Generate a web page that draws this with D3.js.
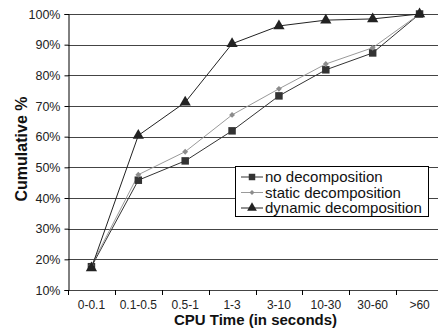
<!DOCTYPE html>
<html>
<head>
<meta charset="utf-8">
<script src="https://cdn.jsdelivr.net/npm/d3@7"></script>
<style>
  body { margin: 0; background: #fff; }
  svg { display: block; font-family: "Liberation Sans", Arial, sans-serif; }
</style>
</head>
<body>
<div id="chart"></div>
<script>
const categories = ["0-0.1", "0.1-0.5", "0.5-1", "1-3", "3-10", "10-30", "30-60", ">60"];
const noDecomposition = [17.6, 45.8, 52.1, 61.9, 73.3, 81.8, 87.3, 100];
const staticDecomposition = [18.0, 47.6, 55.1, 67.1, 75.6, 83.7, 89.0, 100];
const dynamicDecomposition = [17.2, 60.4, 71.2, 90.3, 96.1, 98.0, 98.4, 100];
const yTicks = [10, 20, 30, 40, 50, 60, 70, 80, 90, 100];

const series = [
  { name: "no decomposition", values: noDecomposition, line: "#333", fill: "#333", symbol: d3.symbolSquare, size: 56 },
  { name: "static decomposition", values: staticDecomposition, line: "#9a9a9a", fill: "#8c8c8c", symbol: d3.symbolDiamond2, size: 22 },
  { name: "dynamic decomposition", values: dynamicDecomposition, line: "#222", fill: "#222", symbol: d3.symbolTriangle, size: 55 }
];

const width = 438, height = 332;
const margin = { top: 14, left: 68, right: -5, bottom: 42 };

const svg = d3.select("#chart").append("svg")
  .attr("width", width)
  .attr("height", height);

const x = d3.scaleBand()
  .domain(categories)
  .range([margin.left, width - margin.right]);

const y = d3.scaleLinear()
  .domain([10, 100])
  .range([height - margin.bottom, margin.top]);

// gridlines
svg.append("g")
  .selectAll("line")
  .data(yTicks)
  .enter()
  .append("line")
  .attr("x1", margin.left)
  .attr("x2", width - margin.right)
  .attr("y1", d => Math.round(y(d)) + 0.5)
  .attr("y2", d => Math.round(y(d)) + 0.5)
  .attr("stroke", "#444")
  .attr("stroke-width", 1);

// y axis
const yAxis = svg.append("g")
  .attr("transform", "translate(" + (margin.left + 0.5) + ",0)")
  .call(d3.axisLeft(y).tickValues(yTicks).tickSize(4).tickFormat(d => d + "%"));
yAxis.select(".domain").attr("stroke", "#000");
yAxis.selectAll(".tick line").attr("stroke", "#000");
yAxis.selectAll("text")
  .attr("font-size", 12.5)
  .attr("fill", "#222")
  .attr("x", -8)
  .style("font-family", "'Liberation Sans', Arial, sans-serif");

// x axis
const xAxis = svg.append("g")
  .attr("transform", "translate(0," + (Math.round(y(10)) + 0.5) + ")")
  .call(d3.axisBottom(x).tickSize(0).tickPadding(10));
xAxis.select(".domain").remove();
xAxis.selectAll("text")
  .attr("font-size", 12)
  .attr("fill", "#222")
  .style("font-family", "'Liberation Sans', Arial, sans-serif");

// band boundary ticks
svg.append("g")
  .selectAll("line")
  .data(categories)
  .enter()
  .append("line")
  .attr("x1", d => Math.round(x(d)) + 0.5)
  .attr("x2", d => Math.round(x(d)) + 0.5)
  .attr("y1", y(10))
  .attr("y2", y(10) + 5)
  .attr("stroke", "#000");

const cx = d => x(d) + x.bandwidth() / 2;

const line = d3.line()
  .x((d, i) => cx(categories[i]))
  .y(d => y(d));

series.forEach(s => {
  svg.append("path")
    .datum(s.values)
    .attr("d", line)
    .attr("fill", "none")
    .attr("stroke", s.line)
    .attr("stroke-width", 1);
});

series.forEach(s => {
  svg.append("g")
    .selectAll("path")
    .data(s.values)
    .enter()
    .append("path")
    .attr("transform", (d, i) => "translate(" + cx(categories[i]) + "," + y(d) + ")")
    .attr("d", d3.symbol().type(s.symbol).size(s.size))
    .attr("fill", s.fill);
});

// legend
const legend = svg.append("g").attr("transform", "translate(235,166)");
legend.append("rect")
  .attr("x", 0.5)
  .attr("y", 0.5)
  .attr("width", 193)
  .attr("height", 50)
  .attr("fill", "#fff")
  .attr("stroke", "#000");

series.forEach((s, i) => {
  const g = legend.append("g").attr("transform", "translate(0," + (11 + i * 15.5) + ")");
  g.append("line")
    .attr("x1", 6).attr("x2", 28)
    .attr("y1", 0).attr("y2", 0)
    .attr("stroke", s.line);
  g.append("path")
    .attr("transform", "translate(17,0)")
    .attr("d", d3.symbol().type(s.symbol).size(s.size * 0.75))
    .attr("fill", s.fill);
  g.append("text")
    .attr("x", 30)
    .attr("y", 0)
    .attr("dy", "0.35em")
    .attr("font-size", 15)
    .attr("fill", "#111")
    .text(s.name);
});

// axis titles
svg.append("text")
  .attr("transform", "translate(27,149) rotate(-90)")
  .attr("text-anchor", "middle")
  .attr("font-size", 16)
  .attr("font-weight", "bold")
  .attr("fill", "#111")
  .text("Cumulative %");

svg.append("text")
  .attr("x", (margin.left + width - margin.right) / 2)
  .attr("y", 325)
  .attr("text-anchor", "middle")
  .attr("font-size", 15)
  .attr("font-weight", "bold")
  .attr("fill", "#111")
  .text("CPU Time (in seconds)");
</script>
</body>
</html>
